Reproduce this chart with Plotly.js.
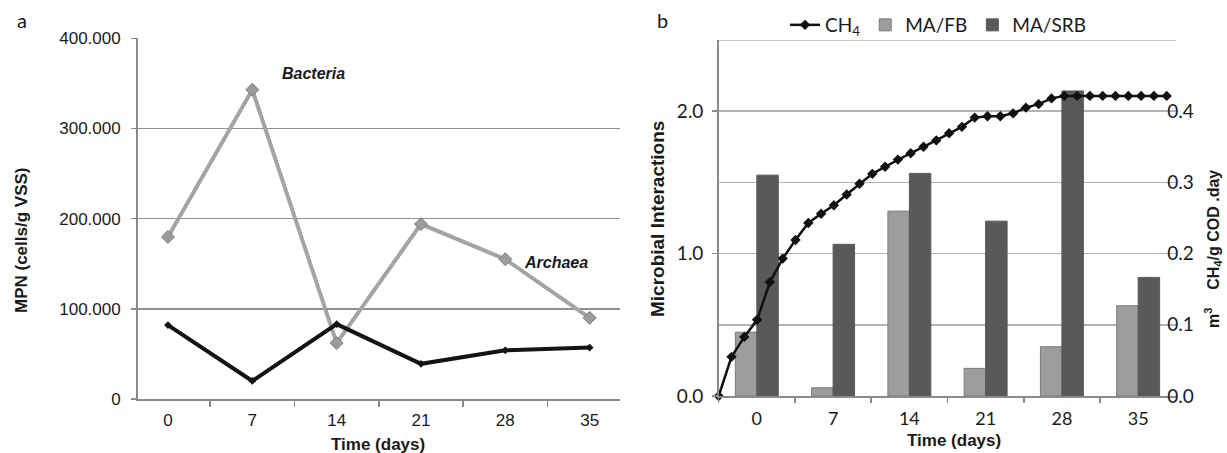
<!DOCTYPE html>
<html>
<head>
<meta charset="utf-8">
<script src="https://cdn.plot.ly/plotly-3.0.1.min.js"></script>
<style>html,body{margin:0;padding:0;background:#fff;}#chart{width:1227px;height:453px;}</style>
</head>
<body>
<div id="chart"></div>
<script>
// ---- data ----
const days = ['0', '7', '14', '21', '28', '35'];
const mpnTickVals = [0, 100000, 200000, 300000, 400000];
const mpnTickText = ['0', '100.000', '200.000', '300.000', '400.000'];
const bacteria = [179700, 343000, 62000, 194000, 155000, 90000];
const archaea = [82000, 20000, 83000, 39000, 54000, 57000];

const maFB = [0.448, 0.058, 1.298, 0.194, 0.346, 0.634];
const maSRB = [1.551, 1.065, 1.563, 1.228, 2.142, 0.833];

const ch4Days = [0, 1, 2, 3, 4, 5, 6, 7, 8, 9, 10, 11, 12, 13, 14, 15, 16, 17,
                 18, 19, 20, 21, 22, 23, 24, 25, 26, 27, 28, 29, 30, 31, 32, 33, 34, 35];
const ch4 = [0, 0.055, 0.083, 0.107, 0.16, 0.193, 0.219, 0.243, 0.256, 0.268, 0.283, 0.298,
             0.312, 0.322, 0.332, 0.341, 0.35, 0.359, 0.369, 0.378, 0.391, 0.393, 0.393, 0.397,
             0.405, 0.41, 0.418, 0.4215, 0.4215, 0.4215, 0.4215, 0.4215, 0.4215, 0.4215, 0.4215, 0.4215];

const leftTickVals = [0, 1, 2];
const leftTickText = ['0.0', '1.0', '2.0'];
const rightTickVals = [0, 0.1, 0.2, 0.3, 0.4];
const rightTickText = ['0.0', '0.1', '0.2', '0.3', '0.4'];

// ---- styles ----
const ARIAL = 'Liberation Sans, Arial, sans-serif';
const CAL = 'Lato, Open Sans, sans-serif';
const INK = '#1a1a1a';
const W = 1227, H = 453;
const px = v => v / W;
const py = v => (H - v) / H;

const traces = [
  {
    x: days, y: bacteria, xaxis: 'x', yaxis: 'y', type: 'scatter', mode: 'lines+markers',
    line: {color: '#a4a4a4', width: 4},
    marker: {symbol: 'diamond', size: 10, color: '#9c9c9c', line: {color: '#7d7d7d', width: 1}},
    showlegend: false, cliponaxis: false
  },
  {
    x: days, y: archaea, xaxis: 'x', yaxis: 'y', type: 'scatter', mode: 'lines+markers',
    line: {color: '#141414', width: 4},
    marker: {symbol: 'diamond', size: 6, color: '#141414'},
    showlegend: false, cliponaxis: false
  },
  {
    x: ch4Days, y: ch4, xaxis: 'x3', yaxis: 'y3', type: 'scatter', mode: 'lines+markers',
    name: 'CH<sub>4</sub>',
    line: {color: '#111111', width: 2.5},
    marker: {symbol: 'diamond', size: 8, color: '#111111'},
    cliponaxis: false
  },
  {
    x: days, y: maFB, xaxis: 'x2', yaxis: 'y2', type: 'bar', name: 'MA/FB',
    marker: {color: '#9d9da0', line: {color: '#7a7a7c', width: 1}}
  },
  {
    x: days, y: maSRB, xaxis: 'x2', yaxis: 'y2', type: 'bar', name: 'MA/SRB',
    marker: {color: '#59595b', line: {color: '#59595b', width: 1}}
  }
];

function ann(text, x, y, size, family, angle) {
  return {text: text, xref: 'paper', yref: 'paper', x: px(x), y: py(y),
          xanchor: 'center', yanchor: 'middle', showarrow: false, textangle: angle || 0,
          font: {family: family, size: size, color: INK}};
}

const layout = {
  width: W, height: H,
  margin: {l: 0, r: 0, t: 0, b: 0},
  paper_bgcolor: '#ffffff', plot_bgcolor: 'rgba(0,0,0,0)',
  font: {family: ARIAL, color: INK, size: 16},
  barmode: 'group', bargap: 0.437, bargroupgap: 0,
  showlegend: true,
  legend: {
    orientation: 'h', x: px(785), xanchor: 'left', y: py(6), yanchor: 'top',
    font: {family: CAL, size: 19, color: INK},
    itemwidth: 30, traceorder: 'normal', bgcolor: 'rgba(0,0,0,0)'
  },
  // left panel
  xaxis: {
    domain: [px(137.6), px(620)], anchor: 'y', type: 'category',
    tickson: 'boundaries', ticks: 'outside', ticklen: 6, tickcolor: '#8a8a8a', tickwidth: 1.5,
    ticklabelstandoff: 5,
    showline: true, linecolor: '#8a8a8a', linewidth: 1.5, showgrid: false, zeroline: false,
    tickfont: {family: ARIAL, size: 17, color: INK}
  },
  yaxis: {
    domain: [py(399), py(38.3)], anchor: 'x', range: [0, 400000],
    tickvals: mpnTickVals, ticktext: mpnTickText,
    ticks: 'outside', ticklen: 5, tickcolor: '#8a8a8a', tickwidth: 1.5,
    ticklabelstandoff: 7,
    showline: true, linecolor: '#8a8a8a', linewidth: 1.5,
    showgrid: true, gridcolor: '#8f8f8f', gridwidth: 1.5, zeroline: false,
    tickfont: {family: ARIAL, size: 17, color: INK}
  },
  // right panel (bars)
  xaxis2: {
    domain: [px(718.7), px(1176.3)], anchor: 'y2', type: 'category',
    tickson: 'boundaries', ticks: 'outside', ticklen: 5, tickcolor: '#8a8a8a', tickwidth: 1.5,
    ticklabelstandoff: 6,
    showline: true, linecolor: '#8a8a8a', linewidth: 1.5, showgrid: false, zeroline: false,
    tickfont: {family: CAL, size: 18, color: INK}
  },
  yaxis2: {
    domain: [py(396), py(40)], anchor: 'x2', range: [0, 2.5],
    tickvals: leftTickVals, ticktext: leftTickText,
    ticks: 'outside', ticklen: 5, tickcolor: '#8a8a8a', tickwidth: 1.5,
    ticklabelstandoff: 5,
    showline: true, linecolor: '#8a8a8a', linewidth: 1.5,
    showgrid: false, zeroline: false,
    tickfont: {family: CAL, size: 19, color: INK}
  },
  // right panel (CH4 line)
  xaxis3: {
    overlaying: 'x2', anchor: 'y3', range: [0, 35.75], visible: false
  },
  yaxis3: {
    overlaying: 'y2', anchor: 'x2', side: 'right', range: [0, 0.5],
    tickvals: rightTickVals, ticktext: rightTickText,
    ticks: '', ticklabelstandoff: -10,
    showline: false, showgrid: true, gridcolor: '#b3b3b3', gridwidth: 1.5, zeroline: false,
    tickfont: {family: CAL, size: 19, color: INK}
  },
  shapes: [
    {type: 'line', xref: 'x2 domain', yref: 'y2', x0: 0, x1: 1, y0: 2.5, y1: 2.5,
     line: {color: '#b3b3b3', width: 1.5}, layer: 'below'}
  ],
  annotations: [
    ann('a', 22, 20, 20, CAL),
    ann('b', 662, 20, 20, CAL),
    ann('<b><i>Bacteria</i></b>', 313, 74, 16, ARIAL),
    ann('<b><i>Archaea</i></b>', 556, 262, 16, ARIAL),
    ann('<b>MPN (cells/g VSS)</b>', 21, 241, 17, ARIAL, -90),
    ann('<b>Time (days)</b>', 378, 444, 17, ARIAL),
    ann('<b>Microbial Interactions</b>', 657, 219, 19, ARIAL, -90),
    ann('<b>Time (days)</b>', 954, 440, 17, ARIAL),
    ann('<b>m<sup>3</sup>&nbsp;&nbsp;&nbsp;&nbsp;CH<sub>4</sub>/g COD .day</b>', 1213, 249, 16, ARIAL, -90)
  ]
};

Plotly.newPlot('chart', traces, layout, {staticPlot: true, displayModeBar: false});
</script>
</body>
</html>
